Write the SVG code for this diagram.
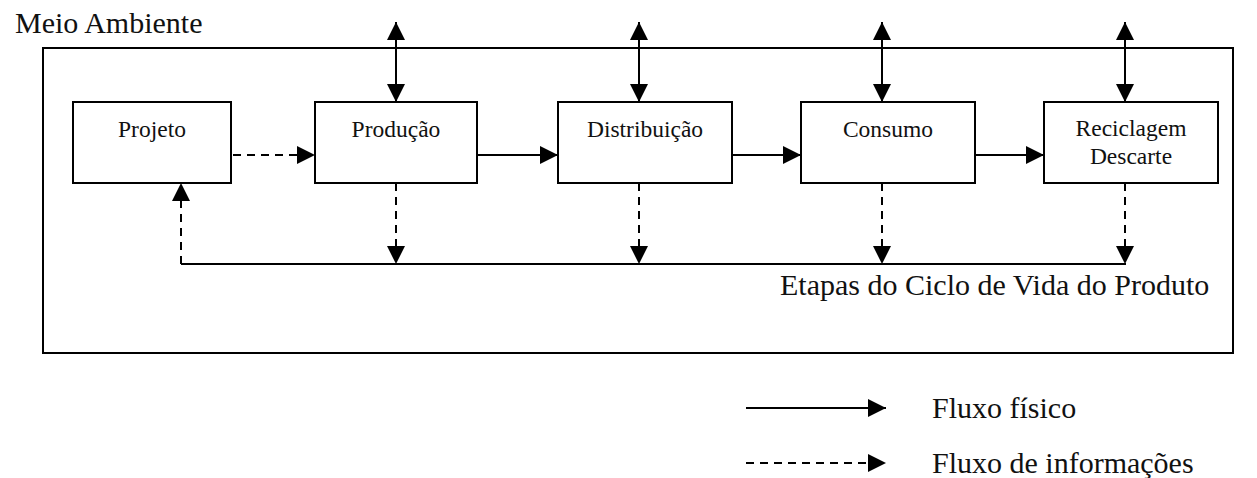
<svg xmlns="http://www.w3.org/2000/svg" width="1257" height="478" viewBox="0 0 1257 478">
<style>
.box{fill:#fff;stroke:#000;stroke-width:2}
.frame{fill:none;stroke:#000;stroke-width:2}
.ln{fill:none;stroke:#000;stroke-width:2}
.dash{stroke-dasharray:8 6}
.lbl{font-family:"Liberation Serif","Times New Roman",serif;font-size:23.5px;fill:#111;text-anchor:middle}
.big{font-family:"Liberation Serif","Times New Roman",serif;font-size:30px;fill:#111}
</style>
<defs>
<marker id="ah" markerUnits="userSpaceOnUse" markerWidth="18" markerHeight="18" viewBox="0 0 16 16" refX="16" refY="8" orient="auto-start-reverse">
<path d="M0,0 L16,8 L0,16 Z" fill="#000"/>
</marker>
</defs>
<rect class="frame" x="43" y="48" width="1190" height="305"/>
<text class="big" x="15" y="33">Meio Ambiente</text>
<text class="big" x="780" y="295">Etapas do Ciclo de Vida do Produto</text>
<g id="node-projeto"><rect class="box" x="73" y="102" width="158" height="81"/><text class="lbl" x="152" y="137">Projeto</text></g>
<g id="node-producao"><rect class="box" x="315" y="102" width="162" height="81"/><text class="lbl" x="396" y="137">Produção</text></g>
<g id="node-distribuicao"><rect class="box" x="558" y="102" width="174" height="81"/><text class="lbl" x="645" y="137">Distribuição</text></g>
<g id="node-consumo"><rect class="box" x="801" y="102" width="174" height="81"/><text class="lbl" x="888" y="137">Consumo</text></g>
<g id="node-reciclagem"><rect class="box" x="1044" y="102" width="174" height="81"/><text class="lbl" x="1131" y="136">Reciclagem</text><text class="lbl" x="1131" y="164">Descarte</text></g>
<g id="connectors">
<line class="ln" x1="396" y1="22" x2="396" y2="102" marker-start="url(#ah)" marker-end="url(#ah)"/>
<line class="ln" x1="639" y1="22" x2="639" y2="102" marker-start="url(#ah)" marker-end="url(#ah)"/>
<line class="ln" x1="882" y1="22" x2="882" y2="102" marker-start="url(#ah)" marker-end="url(#ah)"/>
<line class="ln" x1="1125" y1="22" x2="1125" y2="102" marker-start="url(#ah)" marker-end="url(#ah)"/>
<line class="ln dash" x1="233" y1="155" x2="315" y2="155" marker-end="url(#ah)"/>
<line class="ln" x1="477" y1="155" x2="558" y2="155" marker-end="url(#ah)"/>
<line class="ln" x1="732" y1="155" x2="801" y2="155" marker-end="url(#ah)"/>
<line class="ln" x1="975" y1="155" x2="1044" y2="155" marker-end="url(#ah)"/>
<line class="ln dash" x1="396" y1="183" x2="396" y2="264" marker-end="url(#ah)"/>
<line class="ln dash" x1="639" y1="183" x2="639" y2="264" marker-end="url(#ah)"/>
<line class="ln dash" x1="882" y1="183" x2="882" y2="264" marker-end="url(#ah)"/>
<line class="ln dash" x1="1125" y1="183" x2="1125" y2="264" marker-end="url(#ah)"/>
<line class="ln" x1="181" y1="264" x2="1126" y2="264"/>
<line class="ln dash" x1="181" y1="264" x2="181" y2="183" marker-end="url(#ah)"/>
</g>
<g id="legend">
<line class="ln" x1="746" y1="408" x2="886" y2="408" marker-end="url(#ah)"/>
<text class="big" x="932" y="418">Fluxo físico</text>
<line class="ln dash" x1="746" y1="463" x2="886" y2="463" marker-end="url(#ah)"/>
<text class="big" x="932" y="473">Fluxo de informações</text>
</g>
</svg>
